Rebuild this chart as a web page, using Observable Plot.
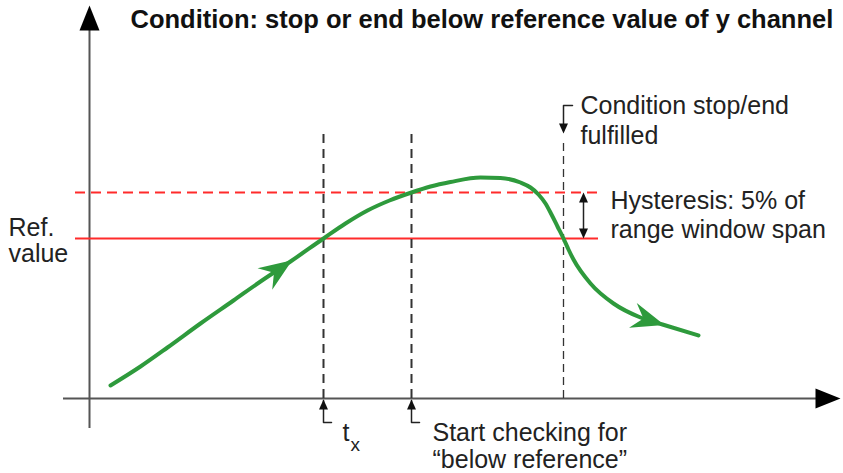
<!DOCTYPE html>
<html><head><meta charset="utf-8">
<script src="https://cdn.jsdelivr.net/npm/d3@7"></script>
<script src="https://cdn.jsdelivr.net/npm/@observablehq/plot@0.6"></script>
<style>body{margin:0;background:#fff}</style>
</head><body><div id="chart"></div>
<script>
// ---- data (schematic units: 1 unit = 1 px, origin at axis crossing) ----
const title = "Condition: stop or end below reference value of y channel";
const refValue = 160;      // Ref. value level
const hystValue = 206;     // Ref. value + 5% hysteresis
const tx = 234;            // curve crosses ref. value
const tStart = 322;        // curve crosses ref + hysteresis -> start checking
const tEnd = 474;          // curve falls below ref -> condition fulfilled

const curveX = [21, 51, 78, 111, 144, 171, 201, 234, 256, 278, 300, 322, 341, 361, 391, 411, 431, 441, 449, 456, 462, 468, 474, 479, 484, 501, 524, 551, 573, 609];
const curveY = [13, 32, 51, 75, 98, 117, 137, 160, 175, 188, 198, 206, 212, 216.5, 221, 220.5, 216, 211, 204, 195, 184, 172, 160, 149, 139, 115, 95, 81, 74, 63];
const arrowIdx = [6, 28];  // arrowheads along the curve

const labelsLeft = ["Ref.", "value"];
const labelsTop = ["Condition stop/end", "fulfilled"];
const labelsHyst = ["Hysteresis: 5% of", "range window span"];
const labelsStart = ["Start checking for", "\u201cbelow reference\u201d"];

// ---- derived tables ----
const curve = curveX.map((x, i) => ({x, y: curveY[i]}));
const heads = arrowIdx.map(i => {
  const a = curve[i - 1], b = curve[i + 1];
  return {x: curve[i].x, y: curve[i].y, angle: Math.atan2(-(b.y - a.y), b.x - a.x) * 180 / Math.PI};
});

const green = "#2e9a3c", red = "#ff2b2b", ink = "#222";
const font = "Liberation Sans, Arial, Helvetica, sans-serif";

const stealth = {draw(c) { c.moveTo(2, 0); c.lineTo(-31, -13); c.lineTo(-20, 0); c.lineTo(-31, 13); c.closePath(); }};
const bigTri = {draw(c) { c.moveTo(0, 0); c.lineTo(-25, -10); c.lineTo(-25, 10); c.closePath(); }};
const smallTri = {draw(c) { c.moveTo(0, 0); c.lineTo(-10, -4.5); c.lineTo(-10, 4.5); c.closePath(); }};

// axis arrow tips
const axisTips = [{x: 751, y: 0, angle: 0}, {x: 0, y: 393, angle: -90}];
// bracket polylines (below axis for tx & tStart, above for tEnd)
const brackets = [
  ...[tx, tStart].flatMap((t, k) => [{z: k, x: t, y: -2}, {z: k, x: t, y: -24}, {z: k, x: t + 8, y: -24}]),
  {z: 2, x: tEnd + 9, y: 293}, {z: 2, x: tEnd, y: 293}, {z: 2, x: tEnd, y: 268}
];
const smallTips = [
  {x: tx, y: -1, angle: -90}, {x: tStart, y: -1, angle: -90},
  {x: tEnd, y: 265, angle: 90},
  {x: 494, y: hystValue, angle: -90}, {x: 494, y: refValue, angle: 90}
];

const textOpts = {fontSize: 25, fontFamily: font, fill: ink, textAnchor: "start", lineAnchor: "bottom"};

const chart = Plot.plot({
  width: 843, height: 473,
  margin: 0,
  x: {domain: [-89, 754], axis: null},
  y: {domain: [-75, 398], axis: null},
  style: {background: "#fff", fontFamily: font},
  marks: [
    // axes
    Plot.ruleY([0], {x1: -26, x2: 730, stroke: "#555", strokeWidth: 2}),
    Plot.ruleX([0], {y1: -30, y2: 372, stroke: "#555", strokeWidth: 2}),
    Plot.dot(axisTips, {x: "x", y: "y", rotate: "angle", symbol: bigTri, fill: "#000", stroke: "none"}),
    // reference levels
    Plot.ruleY([hystValue], {x1: -14, x2: 509, stroke: red, strokeWidth: 2, strokeDasharray: "10,6"}),
    Plot.ruleY([refValue], {x1: -14, x2: 509, stroke: red, strokeWidth: 2}),
    // time markers
    Plot.ruleX([tx, tStart], {y1: 0, y2: 268, stroke: "#333", strokeWidth: 2, strokeDasharray: "9,6"}),
    Plot.ruleX([tEnd], {y1: 0, y2: 258, stroke: "#333", strokeWidth: 1.3, strokeDasharray: "8,5"}),
    Plot.line(brackets, {x: "x", y: "y", z: "z", stroke: "#222", strokeWidth: 1.5}),
    Plot.ruleX([494], {y1: refValue + 4, y2: hystValue - 4, stroke: "#222", strokeWidth: 1.5}),
    Plot.dot(smallTips, {x: "x", y: "y", rotate: "angle", symbol: smallTri, fill: "#111", stroke: "none"}),
    // signal
    Plot.line(curve, {x: "x", y: "y", curve: "monotone-x", stroke: green, strokeWidth: 4, strokeLinecap: "round"}),
    Plot.dot(heads, {x: "x", y: "y", rotate: "angle", symbol: stealth, fill: green, stroke: "none"}),
    // texts
    Plot.text([title], {x: 41, y: 371, text: d => d, ...textOpts, fontSize: 25.5, fontWeight: "bold", fill: "#111"}),
    Plot.text(labelsLeft, {x: -81, y: (d, i) => refValue + 3 - i * 26, text: d => d, ...textOpts}),
    Plot.text(labelsTop, {x: tEnd + 17, y: (d, i) => 285 - i * 30, text: d => d, ...textOpts}),
    Plot.text(labelsHyst, {x: 521, y: (d, i) => hystValue - 16 - i * 29, text: d => d, ...textOpts}),
    Plot.text(labelsStart, {x: tStart + 21, y: (d, i) => -42 - i * 27, text: d => d, ...textOpts}),
    Plot.text(["t"], {x: tx + 19, y: -42, text: d => d, ...textOpts}),
    Plot.text(["x"], {x: tx + 27, y: -52, text: d => d, ...textOpts, fontSize: 19})
  ]
});
document.getElementById("chart").appendChild(chart);
</script></body></html>
